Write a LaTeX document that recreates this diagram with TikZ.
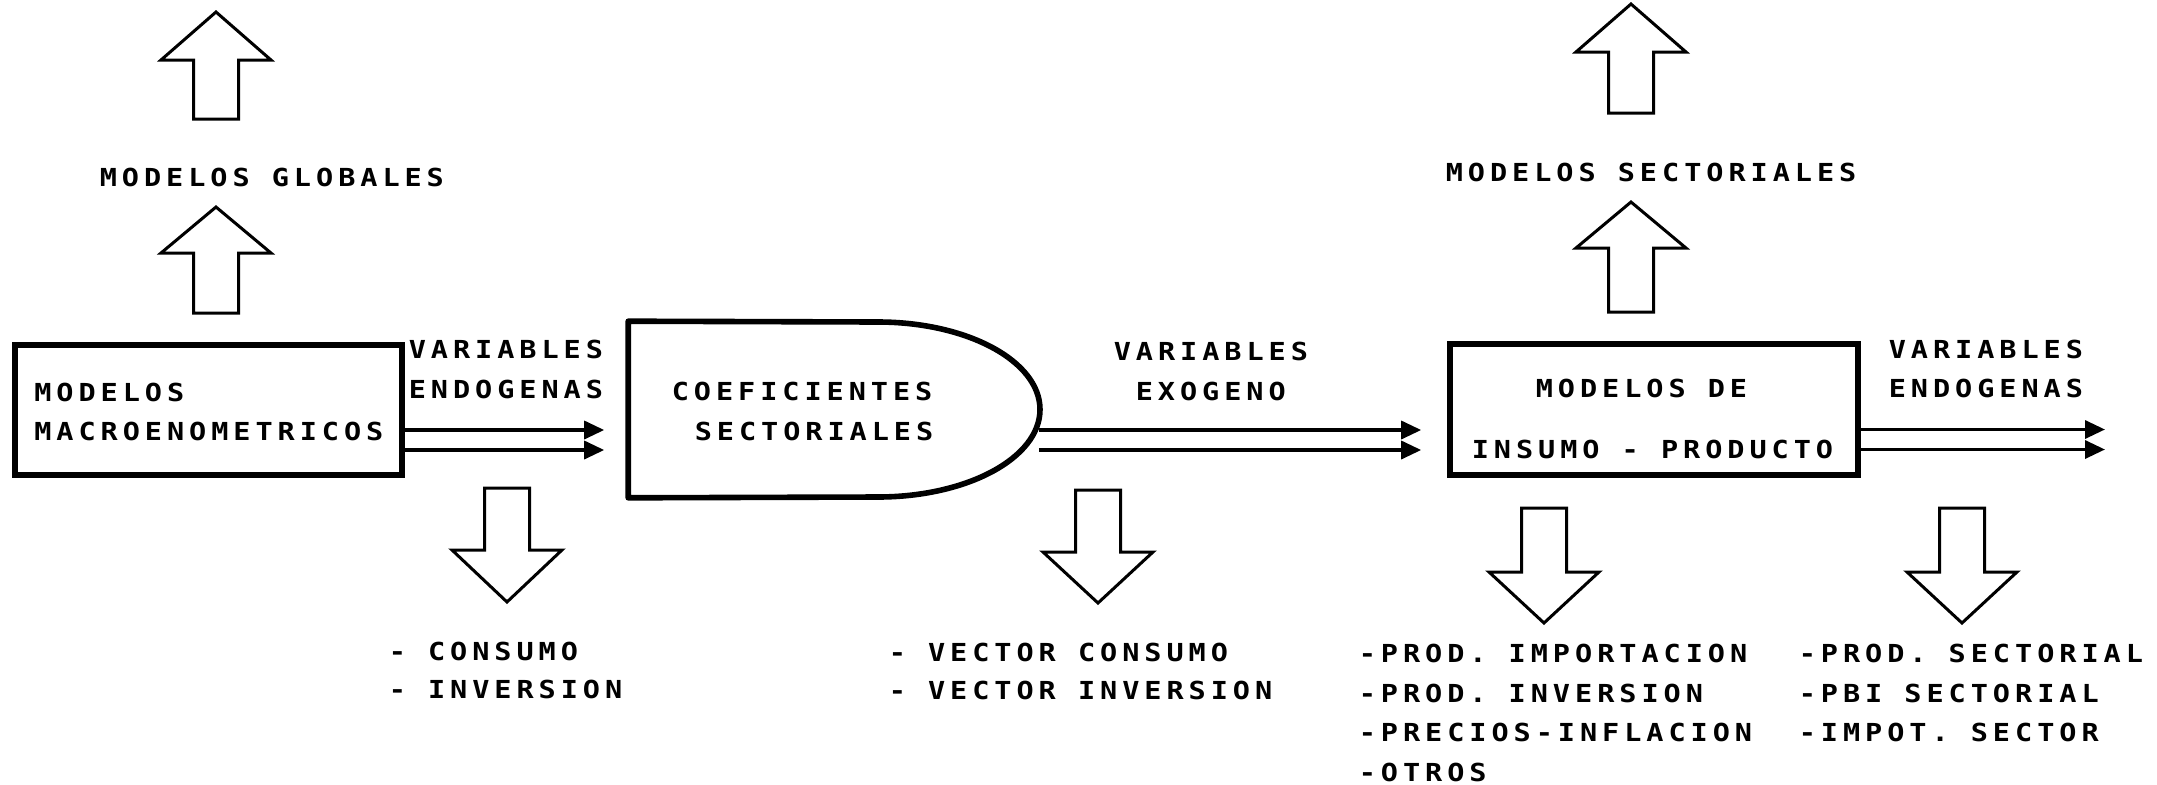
\documentclass[tikz,border=0pt]{standalone}
\usepackage{fontspec}
\newfontfamily\plotfont{DejaVu Sans Mono}[FakeStretch=1.15,LetterSpace=20]
\usetikzlibrary{arrows.meta,calc}
\newcommand\blockarrow[4]{% cx, tip y, head base y, tail y
  \draw[blk] ({#1-22.5},#4) -- ({#1-22.5},#3) -- ({#1-55},#3) -- (#1,#2) -- ({#1+55},#3) -- ({#1+22.5},#3) -- ({#1+22.5},#4) -- cycle;}
\begin{document}
\begin{tikzpicture}[x=0.25pt,y=-0.25pt,
  lbl/.style={anchor=west,inner sep=0pt,font=\plotfont\bfseries\fontsize{6.2pt}{7.5pt}\selectfont},
  box/.style={draw,line width=1.4pt,inner sep=0pt},
  conn/.style={line width=0.85pt,-{Triangle[length=5pt,width=4.5pt]}},
  blk/.style={draw,line width=0.75pt,line join=miter}]
\useasboundingbox (0,0) rectangle (2157,784);

% boxes
\node[box, minimum width=96.75pt, minimum height=32.5pt] (b1) at (208.5,410) {};
\node[inner sep=0pt, minimum width=102.75pt, minimum height=43.75pt] (b2) at (834.5,409.5) {};
\draw[line width=1.4pt, line join=round] (878,497) -- (b2.south west) -- (b2.north west) -- (878,322)
  arc[start angle=90, end angle=-90, x radius=40.5pt, y radius=21.875pt] -- cycle;
\node[box, minimum width=102pt, minimum height=32.75pt] (b3) at (1654,409.5) {};

% texts
\node[lbl] (mg) at (99,177.5) {MODELOS GLOBALES};
\node[lbl] (m1a) at (33.5,392) {MODELOS};
\node[lbl] (m1b) at (33.5,431) {MACROENOMETRICOS};
\node[lbl] (v1a) at (408,349) {VARIABLES};
\node[lbl] (v1b) at (408,389) {ENDOGENAS};
\node[lbl] (c2a) at (671,391) {COEFICIENTES};
\node[lbl] (c2b) at (694,431) {SECTORIALES};
\node[lbl] (v2a) at (1113,351) {VARIABLES};
\node[lbl] (v2b) at (1135,391) {EXOGENO};
\node[lbl] (m3a) at (1535,388) {MODELOS DE};
\node[lbl] (m3b) at (1471,449) {INSUMO - PRODUCTO};
\node[lbl] (v3a) at (1888,349) {VARIABLES};
\node[lbl] (v3b) at (1888,388) {ENDOGENAS};
\node[lbl] (ms) at (1445,172) {MODELOS SECTORIALES};
\node[lbl] (o1a) at (388,651) {- CONSUMO};
\node[lbl] (o1b) at (388,689) {- INVERSION};
\node[lbl] (o2a) at (888,652) {- VECTOR CONSUMO};
\node[lbl] (o2b) at (888,690) {- VECTOR INVERSION};
\node[lbl] (o3a) at (1358,653) {-PROD. IMPORTACION};
\node[lbl] (o3b) at (1358,693) {-PROD. INVERSION};
\node[lbl] (o3c) at (1358,732) {-PRECIOS-INFLACION};
\node[lbl] (o3d) at (1358,772) {-OTROS};
\node[lbl] (o4a) at (1798,653) {-PROD. SECTORIAL};
\node[lbl] (o4b) at (1798,693) {-PBI SECTORIAL};
\node[lbl] (o4c) at (1798,732) {-IMPOT. SECTOR};

% double connectors
\draw[conn, shorten >=6pt] ($(b1.east)+(0,20)$) -- ($(b2.west)+(0,20.5)$);
\draw[conn, shorten >=6pt] ($(b1.east)+(0,40)$) -- ($(b2.west)+(0,40.5)$);
\draw[conn, shorten >=6.5pt] ($(b2.east)+(-2,20.5)$) -- ($(b3.west)+(0,20.5)$);
\draw[conn, shorten >=6.5pt] ($(b2.east)+(-2,40.5)$) -- ($(b3.west)+(0,40.5)$);
\coordinate (out1) at (2105,429.5);
\coordinate (out2) at (2105,449.5);
\draw[conn] ($(b3.east)+(0,20)$) -- (out1);
\draw[conn] ($(b3.east)+(0,40)$) -- (out2);

% block arrows
\blockarrow{216}{12}{60}{119}
\blockarrow{216}{207}{253}{313}
\blockarrow{1631}{4}{52}{113}
\blockarrow{1631}{202}{248}{312}
\blockarrow{507}{602}{550}{488}
\blockarrow{1098}{603}{552}{490}
\blockarrow{1544}{623}{572}{508}
\blockarrow{1962}{623}{572}{508}
\end{tikzpicture}
\end{document}
